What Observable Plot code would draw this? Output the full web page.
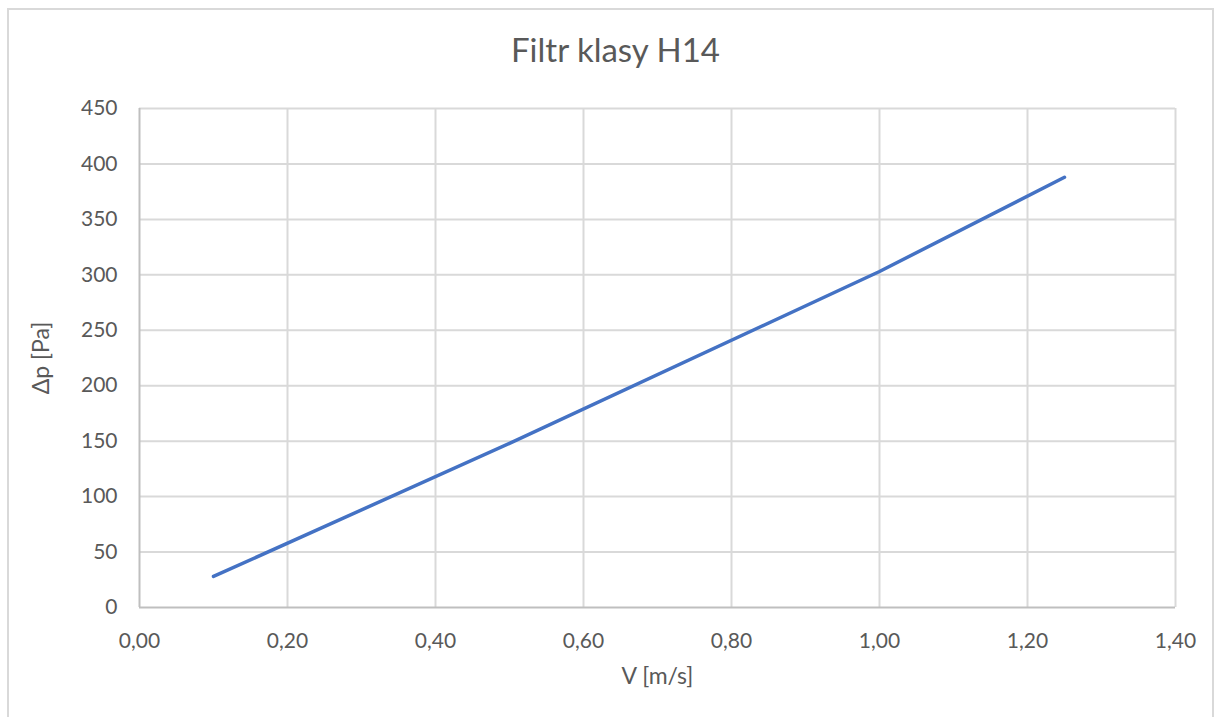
<!DOCTYPE html>
<html>
<head>
<meta charset="utf-8">
<script src="https://cdn.jsdelivr.net/npm/d3@7"></script>
<script src="https://cdn.jsdelivr.net/npm/@observablehq/plot@0.6"></script>
<style>
  html, body { margin: 0; padding: 0; background: #fff; }
  #wrap { position: relative; width: 1221px; height: 717px; overflow: hidden; font-family: Lato, "Open Sans", sans-serif; }
  #border { position: absolute; left: 7px; top: 8px; width: 1207px; height: 720px; border: 2px solid #d9d9d9; box-sizing: border-box; }
  #title { position: absolute; left: 5px; width: 1221px; top: 29px; text-align: center; font-size: 33px; color: #595959; }
  #chart { position: absolute; left: 0; top: 0; }
</style>
</head>
<body>
<div id="wrap">
  <div id="border"></div>
  <div id="chart"></div>
  <div id="title">Filtr klasy H14</div>
</div>
<script>
const velocity = [0.1, 0.5, 1.0, 1.25];
const pressureDrop = [28, 148, 303, 388];
const xTicks = [0, 0.2, 0.4, 0.6, 0.8, 1.0, 1.2, 1.4];
const yTicks = [0, 50, 100, 150, 200, 250, 300, 350, 400, 450];

const data = velocity.map((v, i) => ({v, p: pressureDrop[i]}));
const fmtX = d => d.toFixed(2).replace(".", ",");

const plot = Plot.plot({
  width: 1221,
  height: 717,
  marginLeft: 139,
  marginRight: 46,
  marginTop: 108,
  marginBottom: 110,
  style: {fontFamily: "Lato, 'Open Sans', sans-serif", fontSize: "21px", color: "#595959", background: "transparent"},
  x: {domain: [0, 1.4], ticks: xTicks, tickFormat: fmtX, label: null},
  y: {domain: [0, 450], ticks: yTicks, label: null},
  marks: [
    Plot.gridX(xTicks.slice(1), {stroke: "#d9d9d9", strokeOpacity: 1, strokeWidth: 2}),
    Plot.gridY(yTicks.slice(1), {stroke: "#d9d9d9", strokeOpacity: 1, strokeWidth: 2}),
    Plot.ruleX([0], {stroke: "#bfbfbf", strokeWidth: 2}),
    Plot.ruleY([0], {stroke: "#bfbfbf", strokeWidth: 2}),
    Plot.axisX({ticks: xTicks, tickFormat: fmtX, tickSize: 0, tickPadding: 26, label: null, fill: "#595959", fontSize: 21}),
    Plot.axisY({ticks: yTicks, tickSize: 0, tickPadding: 22, label: null, fill: "#595959", fontSize: 21}),
    Plot.line(data, {x: "v", y: "p", stroke: "#4472c4", strokeWidth: 3.5, strokeLinecap: "round", strokeLinejoin: "round"}),
    Plot.text(["V [m/s]"], {frameAnchor: "bottom", dy: 76, fill: "#595959", fontSize: 23}),
    Plot.text(["Δp [Pa]"], {frameAnchor: "left", dx: -98, rotate: -90, textAnchor: "middle", fill: "#595959", fontSize: 23})
  ]
});
document.getElementById("chart").appendChild(plot);
</script>
</body>
</html>
